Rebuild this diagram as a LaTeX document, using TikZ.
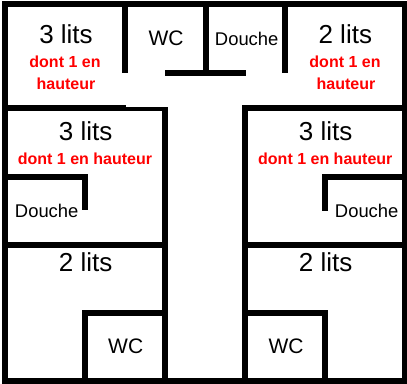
\documentclass[tikz,border=0pt]{standalone}
\usepackage{fontspec}
\setmainfont{Liberation Sans}
\tikzset{
  wall/.style={line width=6pt,line cap=butt,line join=miter,black},
  lbl/.style={anchor=base,inner sep=0pt,text=black},
  big/.style={lbl,font=\fontsize{26}{26}\selectfont},
  mid/.style={lbl,font=\fontsize{21}{21}\selectfont},
  small/.style={lbl,font=\fontsize{18.4}{18.4}\selectfont},
  red/.style={lbl,text=redtext,font=\bfseries\fontsize{16}{16}\selectfont}
}
\definecolor{redtext}{RGB}{255,0,0}
\begin{document}
\begin{tikzpicture}[x=1pt,y=-1pt]
\useasboundingbox (0,0) rectangle (407,383);
% outer walls
\draw[wall] (5,4) rectangle (404.5,380.5);
% top block
\draw[wall] (125,4) -- (125,72.7);
\draw[wall] (205.5,4) -- (205.5,73);
\draw[wall] (285,4) -- (285,72.7);
\draw[wall] (165,73) -- (245.7,73);
% left rooms
\draw[wall] (5,108) -- (126,108);
\draw[wall,line width=4pt] (126,108.7) -- (167.7,108.7);
\draw[wall] (165,107) -- (165,380.5);
\draw[wall] (5,177) -- (85,177);
\draw[wall] (85,174) -- (85,210);
\draw[wall] (5,245) -- (165,245);
\draw[wall] (82,313) -- (165,313);
\draw[wall] (85,313) -- (85,380.5);
% right rooms
\draw[wall] (242.3,108) -- (404.5,108);
\draw[wall] (245,105) -- (245,380.5);
\draw[wall] (322,177) -- (404.5,177);
\draw[wall] (325,174) -- (325,211);
\draw[wall] (245,245) -- (404.5,245);
\draw[wall] (245,313) -- (328,313);
\draw[wall] (325,310) -- (325,380.5);
% labels
\node[big] (a1) at (66,43) {3 lits};
\node[red] (a2) at (65,67.3) {dont 1 en};
\node[red] (a3) at (66,89) {hauteur};
\node[mid] (b1) at (166,45.7) {WC};
\node[small] (c1) at (246.7,45) {Douche};
\node[big] (d1) at (345.3,43) {2 lits};
\node[red] (d2) at (345,67.3) {dont 1 en};
\node[red] (d3) at (346,89) {hauteur};
\node[big] (e1) at (85.7,140.7) {3 lits};
\node[red] (e2) at (85,164) {dont 1 en hauteur};
\node[small] (e3) at (46.7,217.4) {Douche};
\node[big] (f1) at (325.7,140.7) {3 lits};
\node[red] (f2) at (325.3,164) {dont 1 en hauteur};
\node[small] (f3) at (366.7,217.4) {Douche};
\node[big] (g1) at (85.7,271.4) {2 lits};
\node[mid] (g2) at (125.7,353.8) {WC};
\node[big] (h1) at (325.7,271.4) {2 lits};
\node[mid] (h2) at (286,353.8) {WC};
\end{tikzpicture}
\end{document}
